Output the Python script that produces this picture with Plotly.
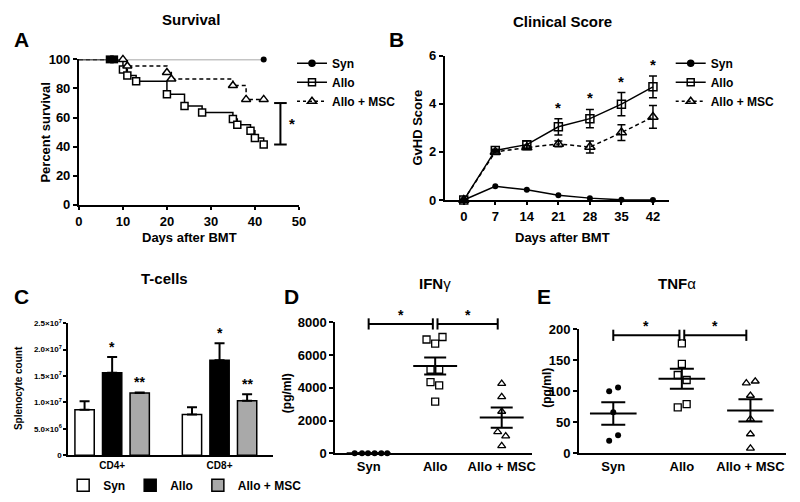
import plotly.graph_objects as go

W, H = 800, 502
FONT = "Liberation Sans, Arial, sans-serif"

# A: survival (Kaplan-Meier steps)
syn_surv_days = [0, 42]
syn_surv = [100, 100]
allo_surv_days = [0, 10, 11, 13, 20, 24, 28, 35, 36, 39, 40, 42]
allo_surv = [100, 93, 89, 85, 76, 68, 63.5, 59, 55, 51, 46, 41.5]
msc_surv_days = [0, 10, 11, 20, 21, 35, 38, 42]
msc_surv = [100, 100, 95.5, 91, 86.5, 82, 72.5, 72.5]
censor_days = [7, 8]
censor_surv = [100, 100]
surv_sig_range = [41.5, 70]
surv_ticks_x = [0, 10, 20, 30, 40, 50]
surv_ticks_y = [0, 20, 40, 60, 80, 100]

# B: clinical score
score_days = [0, 7, 14, 21, 28, 35, 42]
syn_score = [0, 0.57, 0.43, 0.2, 0.08, 0.01, 0]
allo_score = [0, 2.06, 2.3, 3.04, 3.38, 3.98, 4.7]
allo_score_err = [0, 0.05, 0.15, 0.34, 0.38, 0.48, 0.45]
msc_score = [0, 2.0, 2.18, 2.33, 2.2, 2.8, 3.45]
msc_score_err = [0, 0.05, 0.08, 0.12, 0.25, 0.33, 0.47]
score_sig_days = [21, 28, 35, 42]
score_ticks_y = [0, 2, 4, 6]

# C: T-cells
tcell_groups = ["CD4+", "CD8+"]
syn_tcell = [8.6e6, 7.7e6]
syn_tcell_err = [1.6e6, 1.4e6]
allo_tcell = [1.56e7, 1.80e7]
allo_tcell_err = [3.0e6, 3.2e6]
msc_tcell = [1.18e7, 1.03e7]
msc_tcell_err = [1.0e5, 1.25e6]
tcell_ticks = [0, 5e6, 1e7, 1.5e7, 2e7, 2.5e7]
tcell_ticktext = ["0", "5.0×10<sup>6</sup>", "1.0×10<sup>7</sup>", "1.5×10<sup>7</sup>",
                  "2.0×10<sup>7</sup>", "2.5×10<sup>7</sup>"]

# D / E: cytokines
cyto_groups = ["Syn", "Allo", "Allo + MSC"]
ifn_syn = [0, 0, 0, 0, 0, 0]
ifn_allo = [7100, 6950, 6700, 5100, 5100, 4350, 4150, 3150]
ifn_msc = [4250, 3450, 2550, 1300, 1050, 450]
ifn_mean = [0, 5325, 2180]
ifn_sem = [0, 520, 620]
ifn_ticks = [0, 2000, 4000, 6000, 8000]
tnf_syn = [106, 100, 66, 29, 20]
tnf_allo = [177, 144, 126, 118, 79, 74]
tnf_msc = [116, 113, 93, 55, 31, 8]
tnf_mean = [64, 120, 69]
tnf_sem = [18, 16, 18]
tnf_ticks = [0, 50, 100, 150, 200]
sig_pairs = [(0, 1), (1, 2)]

# horizontal scatter offsets of the dots (layout only)
ifn_jitter = [[-0.21, -0.1, -0.01, 0.09, 0.19, 0.28],
              [0.11, -0.13, 0.0, -0.07, 0.06, -0.07, 0.06, 0.0],
              [0.0, 0.0, 0.0, -0.06, 0.06, 0.0]]
tnf_jitter = [[0.07, -0.06, 0.0, 0.07, -0.06],
              [0.0, 0.0, -0.06, 0.07, 0.07, -0.06],
              [0.07, -0.06, 0.0, 0.0, 0.0, 0.0]]

BLACK = "black"


def px(x, y):
    return x / W, 1 - y / H


def dom_x(a, b):
    return [a / W, b / W]


def dom_y(top, bottom):
    return [1 - bottom / H, 1 - top / H]


def bold(labels):
    return [f"<b>{t}</b>" for t in labels]


def axis(domain, anchor, tickvals, ticktext=None, size=13, **kw):
    base = dict(
        domain=domain, anchor=anchor, showline=True, linecolor=BLACK, linewidth=2,
        ticks="outside", ticklen=4, tickwidth=2, tickcolor=BLACK,
        showgrid=False, zeroline=False, fixedrange=True,
        tickvals=tickvals, ticktext=bold(ticktext if ticktext is not None else tickvals),
        tickfont=dict(family=FONT, size=size, color=BLACK),
    )
    base.update(kw)
    return base


fig = go.Figure()

# ---------- A ----------
fig.add_trace(go.Scatter(x=syn_surv_days, y=syn_surv, mode="lines", line=dict(color="#8a8a8a", width=1.5),
                         xaxis="x", yaxis="y", showlegend=False, cliponaxis=False))
fig.add_trace(go.Scatter(x=[syn_surv_days[-1]], y=[syn_surv[-1]], mode="markers",
                         marker=dict(symbol="circle", size=6, color=BLACK),
                         xaxis="x", yaxis="y", showlegend=False, cliponaxis=False))
fig.add_trace(go.Scatter(x=allo_surv_days, y=allo_surv, mode="lines", line=dict(color=BLACK, width=1.5, shape="hv"),
                         xaxis="x", yaxis="y", showlegend=False, cliponaxis=False))
fig.add_trace(go.Scatter(x=allo_surv_days[1:], y=allo_surv[1:], mode="markers",
                         marker=dict(symbol="square", size=7, color="white", line=dict(color=BLACK, width=1.5)),
                         xaxis="x", yaxis="y", showlegend=False, cliponaxis=False))
fig.add_trace(go.Scatter(x=msc_surv_days, y=msc_surv, mode="lines",
                         line=dict(color=BLACK, width=1.5, shape="hv", dash="4px,3px"),
                         xaxis="x", yaxis="y", showlegend=False, cliponaxis=False))
fig.add_trace(go.Scatter(x=msc_surv_days[1:], y=msc_surv[1:], mode="markers",
                         marker=dict(symbol="triangle-up", size=8, color="white", line=dict(color=BLACK, width=1.5)),
                         xaxis="x", yaxis="y", showlegend=False, cliponaxis=False))
fig.add_trace(go.Scatter(x=censor_days, y=censor_surv, mode="markers",
                         marker=dict(symbol="square", size=8, color=BLACK),
                         xaxis="x", yaxis="y", showlegend=False, cliponaxis=False))
fig.add_trace(go.Scatter(x=[45.8, 45.8], y=surv_sig_range, mode="lines+markers",
                         line=dict(color=BLACK, width=2),
                         marker=dict(symbol="line-ew", size=9, line=dict(color=BLACK, width=2)),
                         xaxis="x", yaxis="y", showlegend=False, cliponaxis=False))

legend_specs = [
    ("Syn", "circle", 6, "solid"),
    ("Allo", "square-open", 7, "solid"),
    ("Allo + MSC", "triangle-up-open", 8, "dot"),
]
for lg in ("legend", "legend2"):
    for name, sym, size, dash in legend_specs:
        fig.add_trace(go.Scatter(x=[None], y=[None], mode="lines+markers", name=name, legend=lg,
                                 line=dict(color=BLACK, width=1.5, dash=dash),
                                 marker=dict(symbol=sym, size=size, color=BLACK, line=dict(width=1.5, color=BLACK)),
                                 xaxis="x", yaxis="y"))

# ---------- B ----------
fig.add_trace(go.Scatter(x=score_days, y=syn_score, mode="lines+markers",
                         line=dict(color=BLACK, width=1.5), marker=dict(symbol="circle", size=6, color=BLACK),
                         xaxis="x2", yaxis="y2", showlegend=False, cliponaxis=False))
fig.add_trace(go.Scatter(x=score_days, y=allo_score, mode="lines+markers",
                         line=dict(color=BLACK, width=1.5),
                         marker=dict(symbol="square-open", size=8, color=BLACK, line=dict(width=1.5)),
                         error_y=dict(type="data", array=allo_score_err, color=BLACK, thickness=1.5, width=4),
                         xaxis="x2", yaxis="y2", showlegend=False, cliponaxis=False))
fig.add_trace(go.Scatter(x=score_days, y=msc_score, mode="lines+markers",
                         line=dict(color=BLACK, width=1.5, dash="4px,3px"),
                         marker=dict(symbol="triangle-up-open", size=9, color=BLACK, line=dict(width=1.5)),
                         error_y=dict(type="data", array=msc_score_err, color=BLACK, thickness=1.5, width=4),
                         xaxis="x2", yaxis="y2", showlegend=False, cliponaxis=False))

# ---------- C ----------
for name, vals, errs, fill in [("Syn", syn_tcell, syn_tcell_err, "white"),
                               ("Allo", allo_tcell, allo_tcell_err, "black"),
                               ("Allo + MSC", msc_tcell, msc_tcell_err, "#a9a9a9")]:
    fig.add_trace(go.Bar(x=tcell_groups, y=vals, name=name, legend="legend3",
                         marker=dict(color=fill, line=dict(color=BLACK, width=1.5)),
                         error_y=dict(type="data", array=errs, arrayminus=[0] * len(errs), symmetric=False,
                                      color=BLACK, thickness=2, width=5),
                         xaxis="x3", yaxis="y3"))


# ---------- D / E ----------
def dot_panel(xa, ya, groups, jitters, means, sems, half, cap):
    styles = [dict(symbol="circle", size=6, color=BLACK),
              dict(symbol="square-open", size=7, color=BLACK, line=dict(width=1.3)),
              dict(symbol="triangle-up-open", size=7, color=BLACK, line=dict(width=1.3))]
    for i, (vals, jit) in enumerate(zip(groups, jitters)):
        fig.add_trace(go.Scatter(x=[i + j for j in jit], y=vals, mode="markers", marker=styles[i],
                                 xaxis=xa, yaxis=ya, showlegend=False, cliponaxis=False))
    mx, my = [], []
    for i, m in enumerate(means):
        mx += [i - half, i + half, None]
        my += [m, m, None]
    fig.add_trace(go.Scatter(x=mx, y=my, mode="lines", line=dict(color=BLACK, width=2),
                             xaxis=xa, yaxis=ya, showlegend=False, cliponaxis=False))
    fig.add_trace(go.Scatter(x=list(range(len(means))), y=means, mode="markers", marker=dict(size=1, opacity=0),
                             error_y=dict(type="data", array=sems, color=BLACK, thickness=2, width=cap),
                             xaxis=xa, yaxis=ya, showlegend=False, cliponaxis=False))


dot_panel("x4", "y4", [ifn_syn, ifn_allo, ifn_msc], ifn_jitter, ifn_mean, ifn_sem, 0.33, 11)
dot_panel("x5", "y5", [tnf_syn, tnf_allo, tnf_msc], tnf_jitter, tnf_mean, tnf_sem, 0.34, 12)

annotations = []
STAR = dict(family=FONT, size=14, color=BLACK)


def bracket(xa, ya, level):
    for a, b in sig_pairs:
        x0 = a + (0.035 if a == 1 else 0)
        x1 = b - (0.035 if b == 1 else 0.06)
        fig.add_trace(go.Scatter(x=[x0, x1], y=[level, level], mode="lines+markers",
                                 line=dict(color=BLACK, width=2),
                                 marker=dict(symbol="line-ns", size=8, line=dict(color=BLACK, width=2)),
                                 xaxis=xa, yaxis=ya, showlegend=False, cliponaxis=False))
        annotations.append(dict(x=(x0 + x1) / 2, y=level, xref=xa, yref=ya, text="<b>*</b>", showarrow=False,
                                yanchor="bottom", yshift=-1, font=STAR))


bracket("x4", "y4", 7900)
bracket("x5", "y5", 190)

# stars for A, B and C
for d in score_sig_days:
    i = score_days.index(d)
    annotations.append(dict(x=d, y=allo_score[i] + allo_score_err[i], xref="x2", yref="y2", text="<b>*</b>",
                            showarrow=False, yanchor="bottom", yshift=1, font=dict(STAR, size=15)))
for i in range(len(tcell_groups)):
    annotations.append(dict(x=i, y=allo_tcell[i] + allo_tcell_err[i], xref="x3", yref="y3", text="<b>*</b>",
                            showarrow=False, yanchor="bottom", font=STAR))
    annotations.append(dict(x=i + 0.257, y=msc_tcell[i] + msc_tcell_err[i], xref="x3", yref="y3", text="<b>**</b>",
                            showarrow=False, yanchor="bottom", font=STAR))
annotations.append(dict(x=48.4, y=(surv_sig_range[0] + surv_sig_range[1]) / 2, xref="x", yref="y", text="<b>*</b>",
                        showarrow=False, font=dict(STAR, size=15)))


def label(text, x, y, size=13, angle=0, is_bold=True):
    ax_, ay_ = px(x, y)
    annotations.append(dict(x=ax_, y=ay_, xref="paper", yref="paper", text=f"<b>{text}</b>" if is_bold else text,
                            showarrow=False, textangle=angle, xanchor="center", yanchor="middle",
                            font=dict(family=FONT, size=size, color=BLACK)))


label("Survival", 190, 13, 15)
label("A", 18, 34, 21)
label("Percent survival", 42, 129, 13, -90)
label("Days after BMT", 188, 238, 13)
label("B", 398, 34, 21)
label("Clinical Score", 566, 15, 15)
label("GvHD Score", 419, 124, 13, -90)
label("Days after BMT", 566, 238, 13)
label("T-cells", 163, 280, 15)
label("C", 18, 298, 21)
label("Splenocyte count", 14, 393, 10, -90)
label("<b>IFN</b>γ", 437, 285, 15, is_bold=False)
label("D", 292, 298, 21)
label("(pg/ml)", 287, 398, 12, -90)
label("<b>TNF</b>α", 682, 285, 15, is_bold=False)
label("E", 548, 298, 21)
label("(pg/ml)", 551, 392, 12, -90)

legend_font = dict(family=FONT, size=12, color=BLACK, weight="bold")
fig.update_layout(
    width=W, height=H, margin=dict(l=0, r=0, t=0, b=0),
    paper_bgcolor="white", plot_bgcolor="white",
    barmode="group", bargap=0.23, bargroupgap=0.3,
    xaxis=axis(dom_x(76, 299), "y", surv_ticks_x, range=[0, 50], ticklen=3),
    yaxis=axis(dom_y(54, 204), "x", surv_ticks_y, range=[0, 100]),
    xaxis2=axis(dom_x(447, 674), "y2", score_days, range=[-4.2, 45.5], ticklen=3),
    yaxis2=axis(dom_y(50, 199), "x2", score_ticks_y, range=[0, 6]),
    xaxis3=axis(dom_x(65, 273), "y3", tcell_groups, size=10, type="category", range=[-0.41, 1.5],
                ticks="", linewidth=1.5),
    yaxis3=axis(dom_y(326, 462), "x3", tcell_ticks, range=[0, 2.5e7],
                linewidth=1.5, ticklen=3, tickwidth=1.5, ticktext=tcell_ticktext,
                tickfont=dict(family=FONT, size=8, color=BLACK)),
    xaxis4=axis(dom_x(336, 535), "y4", [0, 1, 2], cyto_groups, range=[-0.5, 2.45], ticks=""),
    yaxis4=axis(dom_y(325, 460), "x4", ifn_ticks, range=[0, 8000]),
    xaxis5=axis(dom_x(583, 793), "y5", [0, 1, 2], cyto_groups, range=[-0.5, 2.52], ticks=""),
    yaxis5=axis(dom_y(332, 460), "x5", tnf_ticks, range=[0, 200]),
    legend=dict(x=px(292, 0)[0], y=px(0, 43)[1], xanchor="left", yanchor="top", font=legend_font,
                bgcolor="rgba(0,0,0,0)", itemwidth=30, tracegroupgap=0),
    legend2=dict(x=px(676, 0)[0], y=px(0, 43)[1], xanchor="left", yanchor="top", font=legend_font,
                 bgcolor="rgba(0,0,0,0)", itemwidth=30, tracegroupgap=0),
    legend3=dict(x=px(60, 0)[0], y=px(0, 478)[1], xanchor="left", yanchor="top", orientation="h",
                 font=legend_font, bgcolor="rgba(0,0,0,0)", itemwidth=30),
    annotations=annotations,
    showlegend=True,
)

# drop the default page margin so the 800x502 figure fills the window exactly
fig.write_html("out.html", config={"displayModeBar": False},
               post_script="document.body.style.margin = '0';")
